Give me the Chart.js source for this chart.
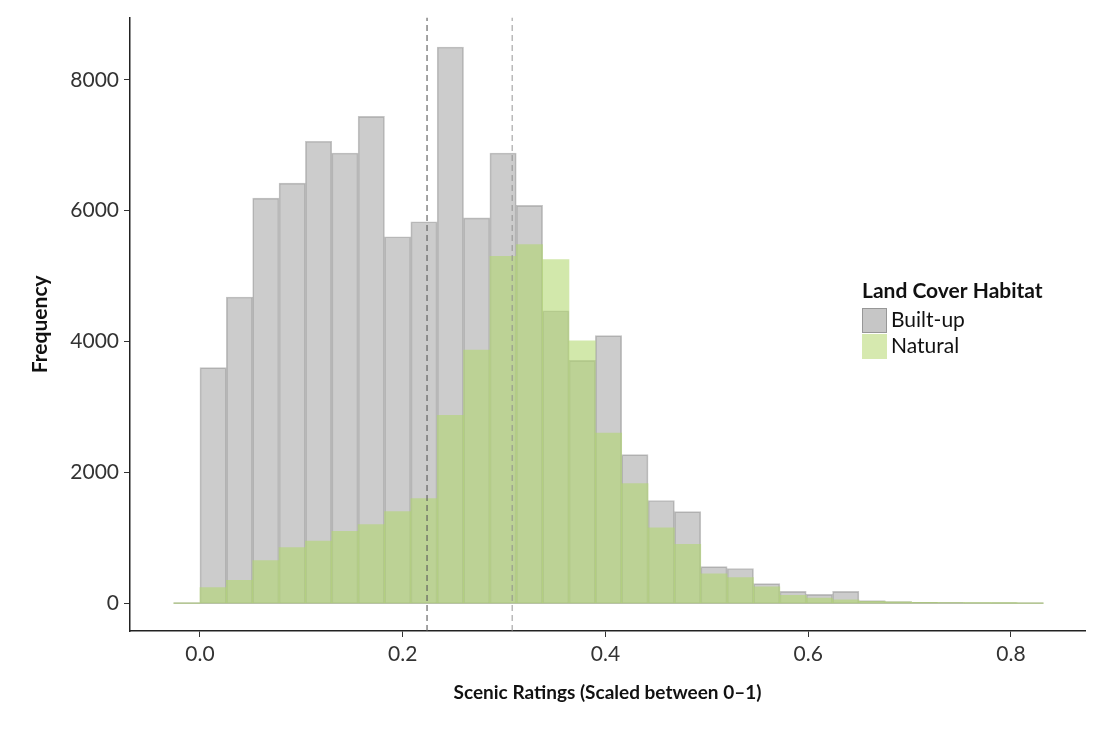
<!DOCTYPE html>
<html>
<head>
<meta charset="utf-8">
<script src="https://cdn.jsdelivr.net/npm/chart.js@4.4.1/dist/chart.umd.min.js"></script>
<style>
  body { margin: 0; background: #fff; }
  canvas { display: block; }
</style>
</head>
<body>
<canvas id="myChart" width="1094" height="731"></canvas>
<script>
// histogram bins (shared by both groups)
var binLeft = -0.026;
var binWidth = 0.026;

var builtUp = [0, 3600, 4680, 6190, 6420, 7060, 6880, 7440, 5600, 5830, 8500, 5890, 6880,
  6080, 4470, 3710, 4090, 2270, 1570, 1400, 560, 530, 300, 180, 135, 180,
  40, 25, 15, 10, 5, 3, 0];
var natural = [0, 240, 350, 650, 850, 950, 1100, 1200, 1400, 1600, 2870, 3870, 5300,
  5480, 5250, 4010, 2600, 1830, 1150, 900, 450, 390, 250, 120, 80, 50,
  30, 20, 12, 8, 4, 2, 0];

// mean lines
var meanLines = [0.224, 0.308];

var xTicks = [0, 0.2, 0.4, 0.6, 0.8];
var yTicks = [0, 2000, 4000, 6000, 8000];
var xRange = [-0.069, 0.873];
var yRange = [-425, 8950];

var groupNames = ['Built-up', 'Natural'];
var legendTitle = 'Land Cover Habitat';

var FONT = 'Lato, "Open Sans", sans-serif';

function toPoints(values) {
  return values.map(function (v, i) {
    return { x: binLeft + (i + 0.5) * binWidth, y: v };
  });
}

var datasets = [];
meanLines.forEach(function (m, i) {
  datasets.push({
    type: 'line',
    data: [{ x: m, y: yRange[0] }, { x: m, y: yRange[1] }],
    borderColor: i == 0 ? 'rgba(90,90,90,0.85)' : 'rgba(140,140,140,0.7)',
    borderWidth: 1.3,
    borderDash: [6, 4],
    pointRadius: 0,
    fill: false,
    order: 0
  });
});
datasets.push({
  label: groupNames[1],
  data: toPoints(natural),
  backgroundColor: 'rgba(178,216,110,0.58)',
  borderWidth: 0,
  grouped: false,
  barPercentage: 1,
  categoryPercentage: 1,
  order: 1
});
datasets.push({
  label: groupNames[0],
  data: toPoints(builtUp),
  backgroundColor: 'rgba(128,128,128,0.40)',
  borderColor: 'rgba(110,110,110,0.4)',
  borderWidth: 1,
  grouped: false,
  barPercentage: 1,
  categoryPercentage: 1,
  order: 2
});
// zero line under the bins
datasets.push({
  type: 'line',
  data: [{ x: binLeft, y: 0 }, { x: binLeft + builtUp.length * binWidth, y: 0 }],
  borderColor: 'rgba(150,165,125,0.9)',
  borderWidth: 1.2,
  pointRadius: 0,
  fill: false,
  order: 3
});

var legendPlugin = {
  id: 'habitatLegend',
  afterDraw: function (chart) {
    var ctx = chart.ctx;
    ctx.save();
    ctx.textBaseline = 'middle';
    ctx.textAlign = 'left';
    ctx.fillStyle = '#111';
    ctx.font = 'bold 21px ' + FONT;
    ctx.fillText(legendTitle, 862, 291);
    // keys
    ctx.fillStyle = 'rgb(198,198,198)';
    ctx.fillRect(862, 308, 25, 25);
    ctx.strokeStyle = 'rgba(120,120,120,0.6)';
    ctx.lineWidth = 1;
    ctx.strokeRect(862.5, 308.5, 24, 24);
    ctx.fillStyle = 'rgb(214,233,175)';
    ctx.fillRect(862, 334, 25, 25);
    ctx.fillStyle = '#111';
    ctx.font = '21px ' + FONT;
    ctx.fillText(groupNames[0], 891, 320);
    ctx.fillText(groupNames[1], 891, 346);
    ctx.restore();
  }
};

var chart = new Chart(document.getElementById('myChart'), {
  type: 'bar',
  data: { datasets: datasets },
  options: {
    responsive: false,
    animation: false,
    devicePixelRatio: 1,
    layout: { padding: { top: 10, right: 9, left: 0, bottom: 0 } },
    plugins: { legend: { display: false }, tooltip: { enabled: false } },
    scales: {
      x: {
        type: 'linear',
        position: 'bottom',
        min: xRange[0],
        max: xRange[1],
        offset: false,
        afterFit: function (s) { s.height = 100; },
        afterBuildTicks: function (s) { s.ticks = xTicks.map(function (v) { return { value: v }; }); },
        border: { display: true, color: '#222', width: 1.5 },
        grid: { display: true, drawOnChartArea: false, drawTicks: true, tickLength: 6, color: '#333', offset: false },
        ticks: {
          color: '#333', padding: 5, maxRotation: 0,
          font: { family: FONT, size: 21 },
          callback: function (v) { return v.toFixed(1); }
        },
        title: {
          display: true, text: 'Scenic Ratings (Scaled between 0\u20131)', color: '#111',
          font: { family: FONT, size: 19, weight: 'bold' }, padding: { top: 0, bottom: 27 }
        }
      },
      y: {
        min: yRange[0],
        max: yRange[1],
        afterFit: function (s) { s.width = 130; },
        afterBuildTicks: function (s) { s.ticks = yTicks.map(function (v) { return { value: v }; }); },
        border: { display: true, color: '#222', width: 1.5 },
        grid: { display: true, drawOnChartArea: false, drawTicks: true, tickLength: 6, color: '#333' },
        ticks: {
          color: '#333', padding: 5,
          font: { family: FONT, size: 21 },
          callback: function (v) { return String(v); }
        },
        title: {
          display: true, text: 'Frequency', color: '#111',
          font: { family: FONT, size: 21, weight: 'bold' }, padding: { top: 28, bottom: 0 }
        }
      }
    }
  },
  plugins: [legendPlugin]
});
</script>
</body>
</html>
